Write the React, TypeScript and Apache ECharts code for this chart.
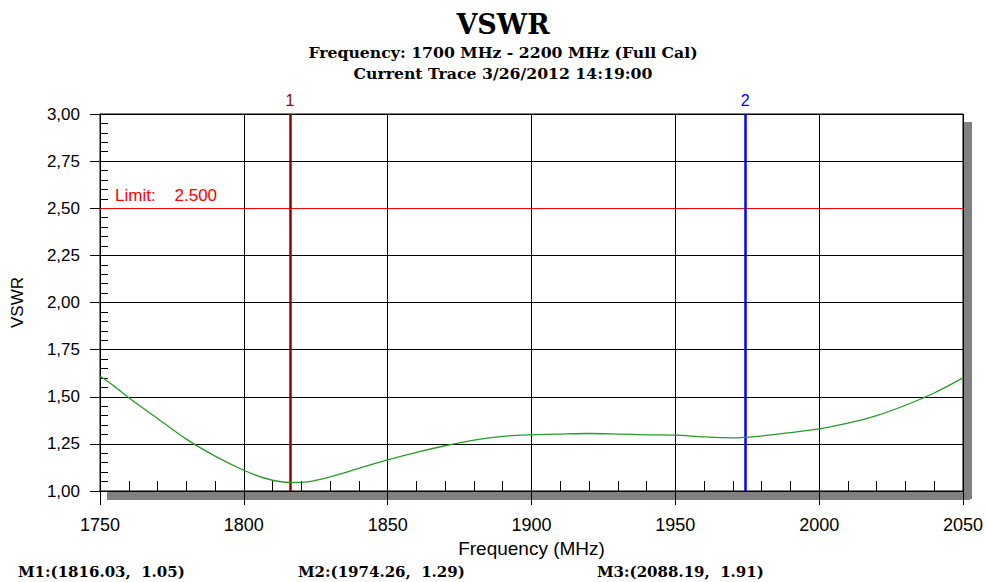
import React, { useEffect, useRef } from "react";
import * as echarts from "echarts";

const titleText = "VSWR";
const subtitleLines = ["Frequency: 1700 MHz - 2200 MHz (Full Cal)", "Current Trace 3/26/2012 14:19:00"];

const freq = [1750, 1755, 1760, 1770, 1780, 1790, 1800, 1808, 1816, 1822, 1830, 1840, 1850, 1860, 1870, 1880, 1890, 1900, 1910, 1920, 1930, 1940, 1950, 1960, 1970, 1980, 1990, 2000, 2010, 2020, 2030, 2040, 2050];
const vswr = [1.61, 1.555, 1.495, 1.385, 1.275, 1.185, 1.11, 1.065, 1.045, 1.048, 1.075, 1.12, 1.165, 1.205, 1.24, 1.27, 1.29, 1.298, 1.302, 1.305, 1.302, 1.298, 1.296, 1.287, 1.282, 1.292, 1.31, 1.33, 1.36, 1.4, 1.455, 1.52, 1.6];

const xMin = 1750, xMax = 2050, xStep = 50;
const yMin = 1, yMax = 3, yStep = 0.25;

const markerLabels = ["1", "2"];
const markerFreqs = [1816.03, 1974.26];
const markerColors = ["#990000", "#0000ff"];
const markerReadouts = ["M1:(1816.03,  1.05)", "M2:(1974.26,  1.29)", "M3:(2088.19,  1.91)"];

const limitValue = 2.5;
const limitText = "Limit:    2.500";

const SANS = "'Liberation Sans', Arial, sans-serif";
const SERIF = "'DejaVu Serif', 'Liberation Serif', serif";

export default function App() {
  const ref = useRef<HTMLDivElement>(null);
  useEffect(() => {
    if (!ref.current) return;
    const chart = echarts.init(ref.current, undefined, { renderer: "svg" });
    const W = 986, H = 582;
    const G = { left: 100, top: 114, right: 23, bottom: 91 };
    const plotR = W - G.right;
    const plotB = H - G.bottom;
    const sh = 8;
    const readX = [18, 298, 597];
    const titleX = 503;

    const minorAxisCommon = {
      axisLine: { show: false },
      axisLabel: { show: false },
      splitLine: { show: false },
      axisTick: { show: false, inside: true },
      minorTick: { show: true, splitNumber: 5, length: 9, lineStyle: { color: "#000", width: 1 } },
    };

    chart.setOption({
      animation: false,
      backgroundColor: "#fff",
      grid: { left: G.left, top: G.top, right: G.right, bottom: G.bottom, outerBoundsMode: "none", containLabel: false, show: true, borderColor: "#000", borderWidth: 1, z: 1 },
      graphic: [
        { type: "rect", z: 0, shape: { x: G.left + 7, y: plotB + 1, width: plotR - G.left, height: sh }, style: { fill: "#808080" }, silent: true },
        { type: "rect", z: 0, shape: { x: plotR + 1, y: G.top + 8, width: sh, height: plotB - G.top }, style: { fill: "#808080" }, silent: true },
        {
          type: "text", silent: true,
          style: { text: titleText, x: titleX, y: 24, align: "center", verticalAlign: "middle", fontFamily: SERIF, fontWeight: "bold", fontSize: 27, fill: "#000" },
        },
        ...subtitleLines.map((t, i) => ({
          type: "text", silent: true,
          style: { text: t, x: titleX, y: 52 + i * 21, align: "center", verticalAlign: "middle", fontFamily: SERIF, fontWeight: "bold", fontSize: 15.7, fill: "#000" },
        })),
        ...markerReadouts.map((t, i) => ({
          type: "text", silent: true,
          style: { text: t, x: readX[i], y: 572, align: "left", verticalAlign: "middle", fontFamily: SERIF, fontWeight: "bold", fontSize: 15, fill: "#000" },
        })),
      ],
      xAxis: [
        {
          type: "value", min: xMin, max: xMax, interval: xStep,
          name: "Frequency (MHz)", nameLocation: "middle", nameGap: 42,
          nameTextStyle: { fontFamily: SANS, fontSize: 19, color: "#000" },
          axisLine: { show: true, lineStyle: { color: "#000", width: 1 } },
          axisTick: { show: true, length: 14, lineStyle: { color: "#000" } },
          axisLabel: { fontFamily: SANS, fontSize: 18, color: "#000", margin: 25, formatter: (v: number) => String(v) },
          splitLine: { show: true, lineStyle: { color: "#000", width: 1 } },
        },
        { type: "value", min: xMin, max: xMax, interval: xStep, position: "bottom", ...minorAxisCommon, minorTick: { ...minorAxisCommon.minorTick, length: 10 } },
      ],
      yAxis: [
        {
          type: "value", min: yMin, max: yMax, interval: yStep,
          name: "VSWR", nameLocation: "middle", nameGap: 74, nameRotate: 90,
          nameTextStyle: { fontFamily: SANS, fontSize: 17, color: "#000" },
          axisLine: { show: true, lineStyle: { color: "#000", width: 1 } },
          axisTick: { show: true, length: 10, lineStyle: { color: "#000" } },
          axisLabel: { fontFamily: SANS, fontSize: 17, color: "#000", margin: 20, formatter: (v: number) => v.toFixed(2).replace(".", ",") },
          splitLine: { show: true, lineStyle: { color: "#000", width: 1 } },
        },
        { type: "value", min: yMin, max: yMax, interval: yStep, position: "left", ...minorAxisCommon, minorTick: { ...minorAxisCommon.minorTick, length: 8 } },
      ],
      series: [
        {
          type: "line",
          data: freq.map((f, i) => [f, vswr[i]]),
          showSymbol: false,
          smooth: 0.3,
          lineStyle: { color: "#2a9a2a", width: 1.3 },
          z: 5,
          markLine: {
            silent: true,
            symbol: "none",
            animation: false,
            data: [
              {
                yAxis: limitValue,
                lineStyle: { color: "#ff0000", width: 1, type: "solid" },
                label: { show: true, formatter: limitText, position: "insideStartTop", color: "#ff0000", fontFamily: SANS, fontSize: 17, distance: [15, 4] },
              },
              ...markerFreqs.map((f, i) => ({
                xAxis: f,
                lineStyle: { color: markerColors[i], width: 2.5, type: "solid" },
                label: { show: true, formatter: markerLabels[i], position: "end", color: markerColors[i], fontFamily: SANS, fontSize: 16, distance: 6 },
              })),
            ],
          },
        },
      ],
    });
    return () => chart.dispose();
  }, []);
  return <div ref={ref} style={{ position: "fixed", left: 0, top: 0, width: 986, height: 582 }} />;
}
